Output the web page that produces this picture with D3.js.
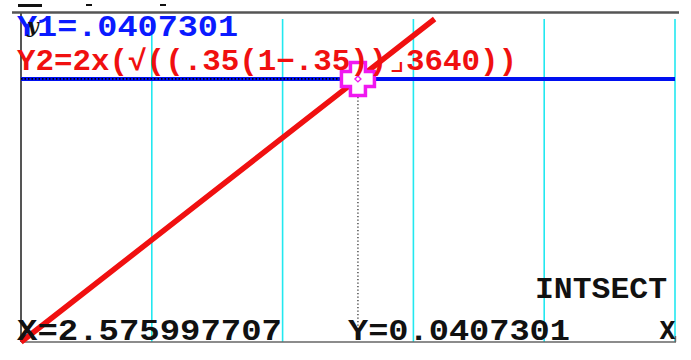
<!DOCTYPE html>
<html><head><meta charset="utf-8">
<script src="https://cdn.jsdelivr.net/npm/d3@7"></script>
<style>html,body{margin:0;padding:0;background:#fff;overflow:hidden}</style>
</head><body>
<svg id="c" width="691" height="360"></svg>
<script>
// ---- data ----
const xDomain = [0, 5];
const yDomain = [0, 0.05];
const gridX = [1, 2, 3, 4, 5];
const y1X = [0, 5];
const y1Values = [0.0407301, 0.0407301];
const y2X = [0, 2.575997707, 3.1623];
const y2Values = [0, 0.0407301, 0.05];
const intersectX = 2.575997707;
const intersectY = 0.0407301;
const labelY1 = "Y1=.0407301";
const labelY2 = "Y2=2x(\u221A((.35(1\u2212.35))\u231F3640))";
const labelX = "X=2.575997707";
const labelYv = "Y=0.0407301";
const labelMode = "INTSECT";

const svg = d3.select("#c");
const x = d3.scaleLinear().domain(xDomain).range([21, 675]);
const y = d3.scaleLinear().domain(yDomain).range([342, 19]);

// screen remnants at top
[[18,42,3],[86,92,2],[160,166,2]].forEach(d=>{
  svg.append("rect").attr("x",d[0]).attr("y",4).attr("width",d[1]-d[0]).attr("height",d[2]).attr("fill","#111");
});
// top border
svg.append("line").attr("x1",12).attr("x2",679).attr("y1",12.5).attr("y2",12.5).attr("stroke","#555").attr("stroke-width",2.5);

// grid
svg.selectAll("line.grid").data(gridX).enter().append("line")
  .attr("x1",d=>x(d)).attr("x2",d=>x(d)).attr("y1",y(yDomain[1])).attr("y2",y(0))
  .attr("stroke","#22e8f0").attr("stroke-width",1.6);

// axes
svg.append("line").attr("x1",x(0)).attr("x2",x(0)).attr("y1",13).attr("y2",y(0)).attr("stroke","#555").attr("stroke-width",2);
svg.append("line").attr("x1",x(0)).attr("x2",x(5)+1).attr("y1",y(0)).attr("y2",y(0)).attr("stroke","#666").attr("stroke-width",1.6);
svg.append("line").attr("x1",x(5)+0.5).attr("x2",x(5)+0.5).attr("y1",y(0)-6).attr("y2",y(0)).attr("stroke","#666").attr("stroke-width",1.4);

const line = d3.line().x(d=>x(d[0])).y(d=>y(d[1]));
// Y1
svg.append("path").datum(y1X.map((v,i)=>[v,y1Values[i]])).attr("d",line)
  .attr("stroke","#0010f0").attr("stroke-width",4).attr("fill","none");
// Y2
svg.append("path").datum(y2X.map((v,i)=>[v,y2Values[i]])).attr("d",line)
  .attr("stroke","#f01010").attr("stroke-width",5.5).attr("fill","none");

// dotted trace lines
svg.append("line").attr("x1",x(0)).attr("x2",x(intersectX)-17).attr("y1",y(intersectY)).attr("y2",y(intersectY))
  .attr("stroke","#000").attr("stroke-width",1.6).attr("stroke-dasharray","1.5,2");
svg.append("line").attr("x1",x(intersectX)).attr("x2",x(intersectX)).attr("y1",y(intersectY)+18).attr("y2",y(0))
  .attr("stroke","#333").attr("stroke-width",1.3).attr("stroke-dasharray","1.3,2.2");

// cursor
const cx = x(intersectX), cy = y(intersectY), R = 16.5, A = 7.5;
const plus = `M${cx-A},${cy-R}H${cx+A}V${cy-A}H${cx+R}V${cy+A}H${cx+A}V${cy+R}H${cx-A}V${cy+A}H${cx-R}V${cy-A}H${cx-A}Z`;
svg.append("path").attr("d",plus).attr("fill","#fff").attr("stroke","#f018f0").attr("stroke-width",3.5);
svg.append("path").attr("d",`M${cx},${cy-3}L${cx+3},${cy}L${cx},${cy+3}L${cx-3},${cy}Z`)
  .attr("fill","none").attr("stroke","#f018f0").attr("stroke-width",1.4);

// texts
function txt(s, x0, base, len, color, size){
  return svg.append("text").attr("x",x0).attr("y",base).text(s)
    .attr("fill",color).attr("font-family","'Liberation Mono', 'DejaVu Sans Mono', monospace")
    .attr("font-weight","bold").attr("font-size",size)
    .attr("textLength",len).attr("lengthAdjust","spacingAndGlyphs");
}
txt(labelY1, 17, 36, 221, "#0a1aff", 29);
txt(labelY2, 17, 70, 500, "#f01010", 29);
svg.append("text").attr("x",27).attr("y",33).text("y").attr("font-family","'DejaVu Serif', serif")
  .attr("font-style","italic").attr("font-weight","bold").attr("font-size",20).attr("fill","#111");
txt(labelX, 17, 340, 265, "#111", 30);
txt(labelYv, 348, 340, 222, "#111", 30);
txt(labelMode, 535, 298, 132, "#111", 30);
txt("x", 659, 339, 17, "#111", 34);
</script>
</body></html>
